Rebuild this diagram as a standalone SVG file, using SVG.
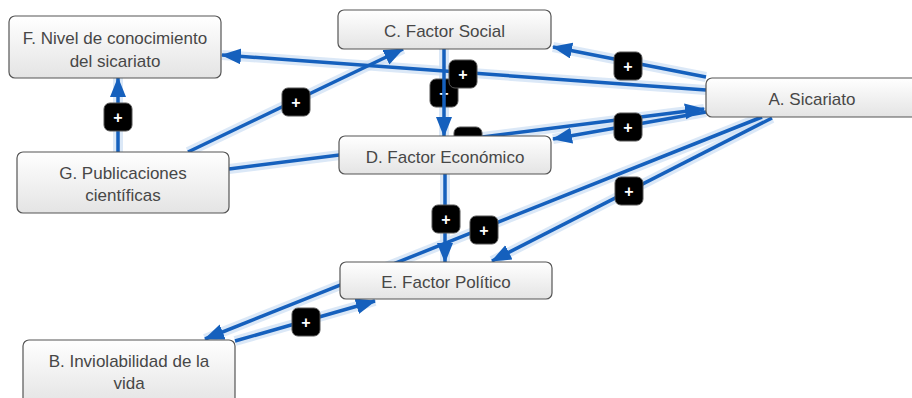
<svg xmlns="http://www.w3.org/2000/svg" width="912" height="398" viewBox="0 0 912 398">
  <defs>
    <linearGradient id="nodeFill" x1="0" y1="0" x2="0" y2="1">
      <stop offset="0" stop-color="#ffffff"/>
      <stop offset="1" stop-color="#e4e4e4"/>
    </linearGradient>
    <marker id="arrow" markerUnits="userSpaceOnUse" markerWidth="22" markerHeight="18" refX="19" refY="8" orient="auto">
      <path d="M0,0 L20,8 L0,16 z" fill="#1560bd"/>
    </marker>
    <style>
      .halo { stroke: #cfe0f4; stroke-width: 10; stroke-opacity: 0.75; fill: none; }
      .edge { stroke: #1560bd; stroke-width: 3.5; fill: none; marker-end: url(#arrow); }
      .lbl rect { fill: #000; stroke: #555; stroke-width: 1; }
      .lbl text { fill: #fff; font-family: "Liberation Sans", Arial, sans-serif; font-size: 16px; font-weight: bold; text-anchor: middle; }
      .node rect { fill: url(#nodeFill); stroke: #555; stroke-width: 1.2; }
      .node text { fill: #474747; font-family: "Liberation Sans", Arial, sans-serif; font-size: 17px; text-anchor: middle; }
    </style>
  </defs>

  <g id="connectors">
    <g class="halos">
      <line class="halo" x1="706" y1="90" x2="222" y2="55"/>
      <line class="halo" x1="706" y1="77" x2="553" y2="47"/>
      <line class="halo" x1="188" y1="152" x2="403" y2="49"/>
      <line class="halo" x1="118" y1="152" x2="118" y2="78"/>
      <line class="halo" x1="444" y1="49" x2="444" y2="136"/>
      <line class="halo" x1="445" y1="174" x2="445" y2="262"/>
      <line class="halo" x1="706" y1="112" x2="553" y2="139"/>
      <line class="halo" x1="229" y1="169" x2="704" y2="109"/>
      <line class="halo" x1="762" y1="117" x2="205" y2="339"/>
      <line class="halo" x1="772" y1="118" x2="492" y2="261"/>
      <line class="halo" x1="235" y1="341" x2="375" y2="301"/>
    </g>

    <g id="edge-G-A">
      <line class="edge" x1="229" y1="169" x2="704" y2="109"/>
      <g class="lbl"><rect x="454" y="127" width="28" height="28" rx="6"/></g>
    </g>
    <g id="edge-A-B">
      <line class="edge" x1="762" y1="117" x2="205" y2="339"/>
    </g>
    <g id="edge-A-E">
      <line class="edge" x1="772" y1="118" x2="492" y2="261"/>
    </g>
    <g id="edge-C-D">
      <g class="lbl"><rect x="430" y="79" width="28" height="28" rx="6"/><text x="444" y="99">+</text></g>
      <line class="edge" x1="444" y1="49" x2="444" y2="136"/>
    </g>
    <g id="edge-A-F">
      <line class="edge" x1="706" y1="90" x2="222" y2="55"/>
      <g class="lbl"><rect x="449" y="60" width="28" height="28" rx="6"/><text x="463" y="80">+</text></g>
    </g>
    <g id="edge-A-C">
      <line class="edge" x1="706" y1="77" x2="553" y2="47"/>
      <g class="lbl"><rect x="614" y="52" width="28" height="28" rx="6"/><text x="628" y="72">+</text></g>
    </g>
    <g id="edge-G-C">
      <line class="edge" x1="188" y1="152" x2="403" y2="49"/>
      <g class="lbl"><rect x="282" y="88" width="28" height="28" rx="6"/><text x="296" y="108">+</text></g>
    </g>
    <g id="edge-G-F">
      <line class="edge" x1="118" y1="152" x2="118" y2="78"/>
      <g class="lbl"><rect x="104" y="103" width="28" height="28" rx="6"/><text x="118" y="123">+</text></g>
    </g>
    <g id="edge-D-E">
      <line class="edge" x1="445" y1="174" x2="445" y2="262"/>
      <g class="lbl"><rect x="432" y="205" width="28" height="28" rx="6"/><text x="446" y="225">+</text></g>
    </g>
    <g id="edge-A-D">
      <line class="edge" x1="706" y1="112" x2="553" y2="139"/>
      <g class="lbl"><rect x="614" y="113" width="28" height="28" rx="6"/><text x="628" y="133">+</text></g>
    </g>
    <g id="edge-A-E-label">
      <g class="lbl"><rect x="615" y="177" width="28" height="28" rx="6"/><text x="629" y="197">+</text></g>
    </g>
    <g id="edge-A-B-label">
      <g class="lbl"><rect x="470" y="216" width="28" height="28" rx="6"/><text x="484" y="236">+</text></g>
    </g>
    <g id="edge-B-E">
      <line class="edge" x1="235" y1="341" x2="375" y2="301"/>
      <g class="lbl"><rect x="292" y="308" width="28" height="28" rx="6"/><text x="306" y="328">+</text></g>
    </g>
  </g>

  <g id="node-F" class="node">
    <rect x="9" y="16" width="212" height="62" rx="6"/>
    <text x="115" y="44">F. Nivel de conocimiento</text>
    <text x="115" y="67">del sicariato</text>
  </g>
  <g id="node-C" class="node">
    <rect x="338" y="10" width="213" height="39" rx="6"/>
    <text x="444.5" y="37">C. Factor Social</text>
  </g>
  <g id="node-A" class="node">
    <rect x="706" y="78" width="212" height="39" rx="6"/>
    <text x="812" y="105">A. Sicariato</text>
  </g>
  <g id="node-G" class="node">
    <rect x="17" y="152" width="212" height="61" rx="6"/>
    <text x="123" y="179">G. Publicaciones</text>
    <text x="123" y="201">científicas</text>
  </g>
  <g id="node-D" class="node">
    <rect x="339" y="136" width="212" height="38" rx="6"/>
    <text x="445" y="163">D. Factor Económico</text>
  </g>
  <g id="node-E" class="node">
    <rect x="340" y="262" width="212" height="37" rx="6"/>
    <text x="446" y="288">E. Factor Político</text>
  </g>
  <g id="node-B" class="node">
    <rect x="23" y="340" width="212" height="64" rx="6"/>
    <text x="129" y="367">B. Inviolabilidad de la</text>
    <text x="129" y="389">vida</text>
  </g>
</svg>
